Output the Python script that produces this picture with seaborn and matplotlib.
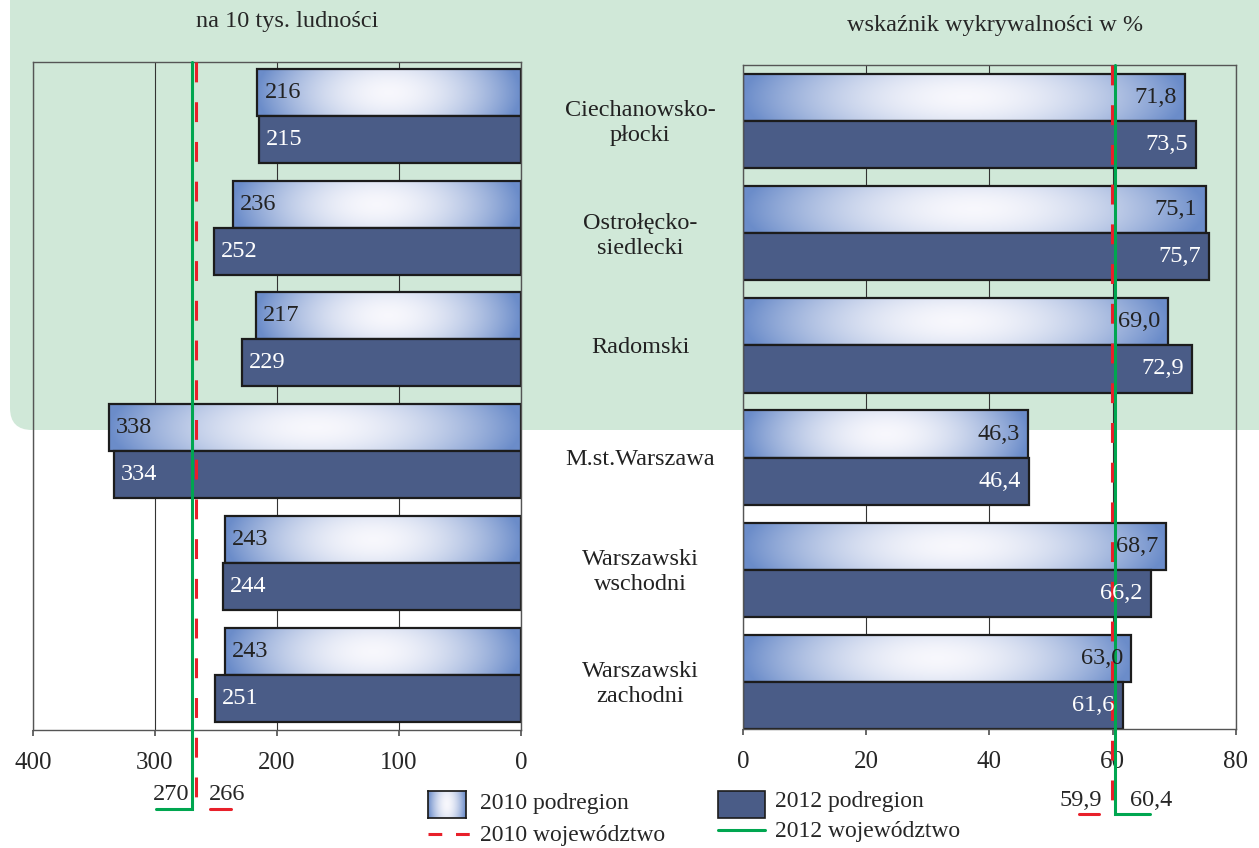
import numpy as np
import pandas as pd
import matplotlib
matplotlib.use("Agg")
import matplotlib.pyplot as plt
import seaborn as sns
from matplotlib.patches import FancyBboxPatch, Rectangle
from matplotlib.lines import Line2D
from matplotlib.transforms import blended_transform_factory

# data
regions = ["Ciechanowsko-\npłocki", "Ostrołęcko-\nsiedlecki", "Radomski",
           "M.st.Warszawa", "Warszawski\nwschodni", "Warszawski\nzachodni"]
years = ["2010", "2012"]
rate_2010 = [216, 236, 217, 338, 243, 243]
rate_2012 = [215, 252, 229, 334, 244, 251]
detect_2010 = [71.8, 75.1, 69.0, 46.3, 68.7, 63.0]
detect_2012 = [73.5, 75.7, 72.9, 46.4, 66.2, 61.6]
voiv_rate = [266, 270]        # 2010, 2012 województwo
voiv_detect = [59.9, 60.4]

sns.set_theme(style="white")
plt.rcParams["font.family"] = ["Liberation Serif", "DejaVu Serif"]

FS = 17.5
dark = "#4a5c87"
edge = "#1c1c1c"
red = "#e8202a"
green = "#00a650"
bg = "#d0e8d8"

# gradient for the 2010 bars (white centre, blue edges)
xs = np.linspace(-1, 1, 300)
ys = np.linspace(-1, 1, 40)
X, Y = np.meshgrid(xs, ys)
t = np.clip(np.sqrt(X**2 + (0.35 * Y)**2), 0, 1) ** 1.8
c_in = np.array([0.97, 0.97, 0.99])
c_out = np.array([0.42, 0.55, 0.79])
grad = c_in * (1 - t[..., None]) + c_out * t[..., None]

fig = plt.figure(figsize=(12.59, 8.48), dpi=100)

# green rounded background behind the top three regions
fig.add_artist(FancyBboxPatch((0.10, 4.18), 13.0, 5.0,
                              boxstyle="round,pad=0,rounding_size=0.22",
                              transform=fig.dpi_scale_trans,
                              facecolor=bg, edgecolor="none", zorder=-5))

ax1 = fig.add_axes([0.0262, 0.1392, 0.3876, 0.7877])
ax2 = fig.add_axes([0.5901, 0.1403, 0.3916, 0.7830])

df1 = pd.DataFrame({"region": regions * 2, "rok": ["2010"] * 6 + ["2012"] * 6,
                    "val": rate_2010 + rate_2012})
df2 = pd.DataFrame({"region": regions * 2, "rok": ["2010"] * 6 + ["2012"] * 6,
                    "val": detect_2010 + detect_2012})

for ax, df, xlim, ylim, ticks in [
        (ax1, df1, (400, 0), (5.49, -0.48), [400, 300, 200, 100, 0]),
        (ax2, df2, (0, 80), (5.42, -0.50), [0, 20, 40, 60, 80])]:
    ax.set_facecolor("none")
    sns.barplot(data=df, x="val", y="region", hue="rok", orient="h",
                palette=["#a9bce3", dark], saturation=1, width=0.84, legend=False,
                edgecolor=edge, linewidth=1.6, ax=ax, zorder=2)
    for p in ax.containers[0]:
        x0, y0, w, h = p.get_x(), p.get_y(), p.get_width(), p.get_height()
        ax.imshow(grad, extent=(x0, x0 + w, y0 + h, y0), aspect="auto",
                  zorder=1.5, interpolation="bilinear")
        p.set_facecolor("none")
    ax.set_xlim(*xlim)
    ax.set_ylim(*ylim)
    ax.set_xticks(ticks)
    ax.set_yticks([])
    ax.set_xlabel("")
    ax.set_ylabel("")
    ax.grid(axis="x", color="#333333", linewidth=0.8)
    ax.set_axisbelow(True)
    for s in ax.spines.values():
        s.set_visible(True)
        s.set_color("#555555")
        s.set_linewidth(1.0)
    ax.tick_params(axis="x", bottom=True, direction="out", length=4,
                   color="#555555", labelsize=18, pad=12)

# value labels
for i in range(6):
    ax1.annotate(str(rate_2010[i]), (rate_2010[i], i - 0.21), xytext=(5, 0),
                 textcoords="offset points", ha="left", va="center",
                 fontsize=FS, color="#222222", zorder=6)
    ax1.annotate(str(rate_2012[i]), (rate_2012[i], i + 0.21), xytext=(5, 0),
                 textcoords="offset points", ha="left", va="center",
                 fontsize=FS, color="white", zorder=6)
    ax2.annotate(f"{detect_2010[i]:.1f}".replace(".", ","), (detect_2010[i], i - 0.21),
                 xytext=(-6, 0), textcoords="offset points", ha="right", va="center",
                 fontsize=FS, color="#222222", zorder=6)
    ax2.annotate(f"{detect_2012[i]:.1f}".replace(".", ","), (detect_2012[i], i + 0.21),
                 xytext=(-6, 0), textcoords="offset points", ha="right", va="center",
                 fontsize=FS, color="white", zorder=6)

# voivodeship lines (extend below the axes)
dash = (0, (6.5, 6.5))
tr1 = ax1.get_xaxis_transform()
ax1.plot([voiv_rate[0]] * 2, [1.0, -0.108], transform=tr1, color=red, lw=2.2,
         linestyle=dash, clip_on=False, zorder=4)
ax1.plot([voiv_rate[1], voiv_rate[1], voiv_rate[1] + 29], [1.0, -0.118, -0.118],
         transform=tr1, color=green, lw=2.2, clip_on=False, zorder=4,
         solid_joinstyle="miter")
ax1.text(voiv_rate[1] + 2, -0.097, str(voiv_rate[1]), transform=tr1, ha="right",
         va="center", fontsize=FS)
ax1.text(voiv_rate[0] - 10, -0.097, str(voiv_rate[0]), transform=tr1, ha="left",
         va="center", fontsize=FS)
ax1.plot([voiv_rate[0] - 11.5, voiv_rate[0] - 28], [-0.118, -0.118], transform=tr1,
         color=red, lw=2.2, clip_on=False)

tr2 = ax2.get_xaxis_transform()
ax2.plot([voiv_detect[0]] * 2, [1.0, -0.118], transform=tr2, color=red, lw=2.2,
         linestyle=dash, clip_on=False, zorder=4)
ax2.plot([voiv_detect[1], voiv_detect[1], voiv_detect[1] + 5.6], [1.0, -0.128, -0.128],
         transform=tr2, color=green, lw=2.2, clip_on=False, zorder=4,
         solid_joinstyle="miter")
ax2.text(voiv_detect[0] - 1.6, -0.108, f"{voiv_detect[0]}".replace(".", ","),
         transform=tr2, ha="right", va="center", fontsize=FS)
ax2.plot([voiv_detect[0] - 5.4, voiv_detect[0] - 2.1], [-0.128, -0.128],
         transform=tr2, color=red, lw=2.2, clip_on=False)
ax2.text(voiv_detect[1] + 2.4, -0.108, f"{voiv_detect[1]}".replace(".", ","),
         transform=tr2, ha="left", va="center", fontsize=FS)

# region names in the middle
trc = blended_transform_factory(fig.transFigure, ax2.transData)
for i, r in enumerate(regions):
    ax2.text(640 / 1259, i + 0.02, r, transform=trc, ha="center", va="center",
             fontsize=FS, linespacing=1.25, color="#222222")

fig.text(287 / 1259, 1 - 22 / 848, "na 10 tys. ludności", ha="center", va="center",
         fontsize=FS)
fig.text(995 / 1259, 1 - 25 / 848, "wskaźnik wykrywalności w %", ha="center",
         va="center", fontsize=FS)

# legend drawn by hand
W, H = 1259, 848
lax = fig.add_axes([428 / W, 1 - 818 / H, 38 / W, 27 / H])
lax.imshow(grad, aspect="auto", interpolation="bilinear")
lax.set_xticks([])
lax.set_yticks([])
for s in lax.spines.values():
    s.set_color(edge)
fig.add_artist(Rectangle((718 / W, 1 - 818 / H), 47 / W, 27 / H, facecolor=dark,
                         edgecolor=edge, lw=1.2, transform=fig.transFigure))
fig.add_artist(Line2D([428 / W, 470 / W], [1 - 834 / H] * 2, color=red, lw=2.2,
                      linestyle=(0, (4.5, 4.5)), transform=fig.transFigure))
fig.add_artist(Line2D([718 / W, 765 / W], [1 - 830 / H] * 2, color=green, lw=2.2,
                      transform=fig.transFigure))
fig.text(480 / W, 1 - 804 / H, "2010 podregion", ha="left", va="center", fontsize=17)
fig.text(775 / W, 1 - 802 / H, "2012 podregion", ha="left", va="center", fontsize=17)
fig.text(480 / W, 1 - 835 / H, "2010 województwo", ha="left", va="center", fontsize=17)
fig.text(775 / W, 1 - 831 / H, "2012 województwo", ha="left", va="center", fontsize=17)

fig.savefig("out.png", dpi=100)
